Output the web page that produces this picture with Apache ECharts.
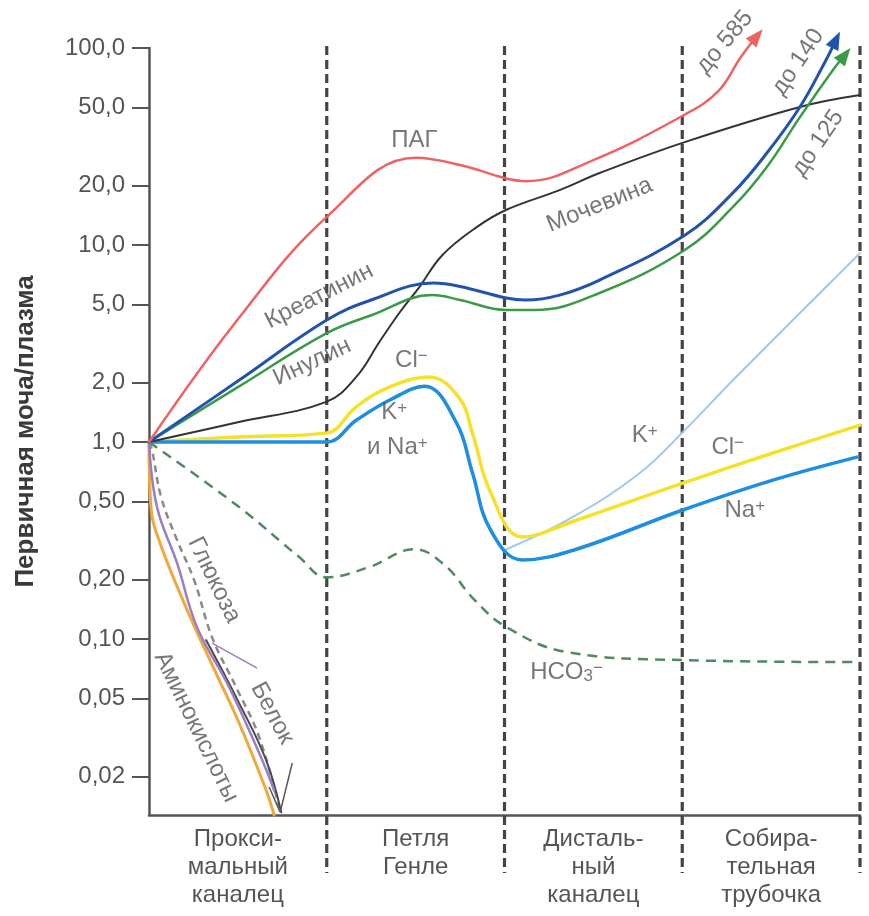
<!DOCTYPE html>
<html>
<head>
<meta charset="utf-8">
<script src="https://cdn.jsdelivr.net/npm/echarts@6/dist/echarts.min.js"></script>
<style>
  html, body { margin: 0; padding: 0; background: #fff; }
  #chart { width: 869px; height: 916px; }
</style>
</head>
<body>
<div id="chart"></div>
<script>
// nephron segments (x axis 0..4)
const segments = ["Прокси-\nмальный\nканалец", "Петля\nГенле", "Дисталь-\nный\nканалец", "Собира-\nтельная\nтрубочка"];
const segmentCenters = [0.5, 1.5, 2.5, 3.5];
const boundaries = [1, 2, 3, 4];

const yTicks = [0.02, 0.05, 0.1, 0.2, 0.5, 1, 2, 5, 10, 20, 50, 100];
const yTickLabels = ["0,02", "0,05", "0,10", "0,20", "0,50", "1,0", "2,0", "5,0", "10,0", "20,0", "50,0", "100,0"];

// urine/plasma ratios
const pag = [[0, 1], [0.5, 4.2], [1.0, 13.9], [1.5, 27.7], [1.75, 25.5], [2.0, 21.9], [2.12, 21.1], [2.5, 27.0], [3.01, 45.7], [3.2, 60], [3.33, 90], [3.42, 115]];
const creatinine = [[0, 1], [0.5, 2.04], [1.0, 4.16], [1.25, 5.26], [1.6, 6.41], [1.75, 6.16], [2.011, 5.38], [2.12, 5.26], [2.31, 5.57], [2.535, 6.64], [3.014, 11.2], [3.285, 18.4], [3.476, 29.3], [3.662, 50.2], [3.803, 84.9], [3.865, 110]];
const inulin = [[0, 1], [0.5, 1.9], [1.0, 3.57], [1.25, 4.4], [1.594, 5.57], [1.75, 5.26], [2.011, 4.68], [2.17, 4.68], [2.535, 5.71], [3.014, 9.43], [3.285, 15.6], [3.476, 24.9], [3.662, 44.6], [3.848, 77.3], [3.915, 92.1]];
const urea = [[0, 1], [0.5, 1.26], [0.997, 1.6], [1.166, 2.14], [1.296, 3.22], [1.408, 4.52], [1.521, 6.12], [1.651, 8.9], [1.842, 12.3], [2.011, 15.1], [2.31, 19.0], [2.535, 23.2], [3.014, 33.3], [3.662, 50.2], [4.0, 57.7]];
const chloride = [[0, 1], [0.5, 1.06], [0.997, 1.11], [1.166, 1.51], [1.352, 1.9], [1.577, 2.14], [1.746, 1.67], [1.82, 1.11], [1.92, 0.56], [2.1, 0.33], [2.4, 0.40], [3.003, 0.619], [3.51, 0.88], [4.0, 1.22]];
const sodium = [[0, 1], [0.997, 1.0], [1.166, 1.29], [1.352, 1.63], [1.55, 1.92], [1.73, 1.25], [1.82, 0.696], [1.92, 0.36], [2.1, 0.252], [2.4, 0.285], [3.003, 0.452], [3.51, 0.641], [3.983, 0.839]];
const potassium = [[2.0, 0.283], [2.383, 0.416], [2.761, 0.696], [3.014, 1.15], [3.285, 2.06], [3.662, 4.52], [4.0, 9.1]];
const bicarbonate = [[0, 1], [0.507, 0.468], [0.845, 0.261], [0.997, 0.206], [1.239, 0.232], [1.493, 0.286], [1.662, 0.238], [1.831, 0.158], [2.011, 0.115], [2.349, 0.0859], [3.014, 0.0782], [4.0, 0.0764]];
const aminoAcids = [[0, 1], [0.011, 0.468], [0.056, 0.318], [0.208, 0.145], [0.377, 0.0672], [0.507, 0.0375], [0.659, 0.0171], [0.704, 0.0128]];
const glucose = [[0, 1], [0.045, 0.468], [0.158, 0.243], [0.27, 0.115], [0.451, 0.057], [0.637, 0.0243], [0.704, 0.0171]];
const glucoseDark = [[0.321, 0.0989], [0.507, 0.0473], [0.659, 0.0243], [0.744, 0.0132]];
const protein = [[0, 1], [0.017, 0.911], [0.068, 0.526], [0.158, 0.318], [0.254, 0.199], [0.355, 0.102], [0.49, 0.057], [0.62, 0.0318], [0.732, 0.014]];

// leader lines from labels to curves
const glucoseLeader = [[0.355, 0.0955], [0.608, 0.0713]];
const proteinLeader = [[0.806, 0.0235], [0.738, 0.01324], [0.676, 0.01774]];

// curve labels: text, x, y
const annotations = [
  ["ПАГ", 1.493, 34.1],
  ["Креатинин", 0.958, 5.51],
  ["Инулин", 0.918, 2.55],
  ["Мочевина", 2.535, 15.96],
  ["Cl{sup|−}", 1.476, 2.61],
  ["K{sup|+}", 1.38, 1.42],
  ["и Na{sup|+}", 1.397, 0.943],
  ["K{sup|+}", 2.789, 1.085],
  ["Cl{sup|−}", 3.256, 0.943],
  ["Na{sup|+}", 3.352, 0.452],
  ["HCO{sub|3}{sup|−}", 2.349, 0.068],
  ["до 585", 3.239, 107],
  ["до 140", 3.651, 84.9],
  ["до 125", 3.763, 32.9],
  ["Глюкоза", 0.366, 0.1995],
  ["Белок", 0.693, 0.0421],
  ["Аминокислоты", 0.265, 0.0357]
];
const annotationRotate = {
  "Креатинин": 27, "Инулин": 25, "Мочевина": 22,
  "до 585": 50, "до 140": 56, "до 125": 56,
  "Глюкоза": -64, "Белок": -62, "Аминокислоты": -64
};

const Y_MIN = 0.0128, Y_MAX = 100;
const FONT = "'Liberation Sans', Arial, sans-serif";
const TXT = "#555";

const chart = echarts.init(document.getElementById("chart"), null, { renderer: "canvas" });

function curve(name, data, color, width, extra) {
  return Object.assign({
    name, type: "line", data, smooth: 0.4, clip: false,
    symbol: "none", showSymbol: true, silent: true,
    lineStyle: { color, width, cap: "round" },
    itemStyle: { color },
    z: 3
  }, extra || {});
}

function arrowEnd(data, rotate) {
  const out = data.slice(0, -1);
  out.push({ value: data[data.length - 1], symbol: "triangle", symbolSize: [14, 18], symbolRotate: rotate });
  return out;
}

chart.setOption({
  backgroundColor: "#fff",
  animation: false,
  grid: { left: 149, right: 9, top: 48, bottom: 101 },
  xAxis: {
    type: "value", min: 0, max: 4,
    axisLine: { show: true, lineStyle: { color: "#555", width: 2.5 } },
    axisTick: { show: false },
    splitLine: { show: false },
    axisLabel: {
      customValues: segmentCenters,
      formatter: (v) => segments[segmentCenters.indexOf(v)],
      color: TXT, fontSize: 24, fontFamily: FONT, lineHeight: 28, margin: 10
    }
  },
  yAxis: {
    type: "log", logBase: 10, min: Y_MIN, max: Y_MAX,
    name: "Первичная моча/плазма",
    nameLocation: "middle", nameRotate: 90, nameGap: 110,
    nameTextStyle: { color: "#3a3a3a", fontSize: 26, fontWeight: "bold", fontFamily: FONT },
    axisLine: { show: true, lineStyle: { color: "#555", width: 2.5 } },
    axisTick: { show: true, customValues: yTicks, length: 17, lineStyle: { color: "#555", width: 2 } },
    axisLabel: {
      customValues: yTicks,
      formatter: (v) => {
        const i = yTicks.findIndex((t) => Math.abs(t - v) / t < 1e-6);
        return i >= 0 ? yTickLabels[i] : "";
      },
      color: TXT, fontSize: 24, fontFamily: FONT, margin: 24
    },
    splitLine: { show: false }
  },
  series: [
    {
      type: "custom", silent: true, clip: false, z: 1,
      data: boundaries.map((b) => [b, Y_MAX]),
      renderItem: (params, api) => {
        const x = api.value(0);
        const top = api.coord([x, Y_MAX]);
        const bottom = api.coord([x, Y_MIN]);
        return {
          type: "line",
          shape: { x1: top[0], y1: top[1] - 2, x2: bottom[0], y2: bottom[1] + 58 },
          style: { stroke: "#444", lineWidth: 3.2, lineDash: [9, 5] }
        };
      }
    },
    curve("Белок", protein, "#8a8a8a", 2.5, { lineStyle: { color: "#8a8a8a", width: 2.5, type: [7, 5] },
      markLine: { silent: true, symbol: "none", label: { show: false }, lineStyle: { color: "#555", width: 1.5, type: "solid" },
        data: [[{ coord: proteinLeader[0] }, { coord: proteinLeader[1] }], [{ coord: proteinLeader[2] }, { coord: proteinLeader[1] }]] } }),
    curve("Аминокислоты", aminoAcids, "#f0a83a", 3),
    curve("Глюкоза (тёмная)", glucoseDark, "#4a4a4a", 2),
    curve("Глюкоза", glucose, "#9a7cc8", 2.5, {
      markLine: { silent: true, symbol: "none", label: { show: false }, lineStyle: { color: "#9a7cc8", width: 1.5, type: "solid" },
        data: [[{ coord: glucoseLeader[0] }, { coord: glucoseLeader[1] }]] } }),
    curve("HCO3", bicarbonate, "#4f8a60", 2.5, { lineStyle: { color: "#4f8a60", width: 2.5, type: [10, 7] } }),
    curve("K+", potassium, "#9cc8f0", 2),
    curve("Cl-", chloride, "#f5e02a", 3.5),
    curve("Na+", sodium, "#1e8ee0", 3.5),
    curve("Мочевина", urea, "#333333", 2),
    curve("Инулин", arrowEnd(inulin, -38), "#3b9a48", 2.5),
    curve("Креатинин", arrowEnd(creatinine, -26), "#2253aa", 3),
    curve("ПАГ", arrowEnd(pag, -40), "#ef6262", 2.5),
    {
      type: "scatter", silent: true, clip: false, symbolSize: 0, z: 5,
      data: annotations.map(([text, x, y]) => ({
        value: [x, y],
        label: {
          show: true, position: "inside", formatter: text,
          rotate: annotationRotate[text] || 0,
          color: TXT, fontSize: 24, fontFamily: FONT,
          rich: {
            sup: { fontSize: 17, color: TXT, fontFamily: FONT, verticalAlign: "top", padding: [0, 0, 8, 0] },
            sub: { fontSize: 17, color: TXT, fontFamily: FONT, verticalAlign: "bottom", padding: [8, 0, 0, 0] }
          }
        }
      }))
    }
  ]
});
</script>
</body>
</html>
